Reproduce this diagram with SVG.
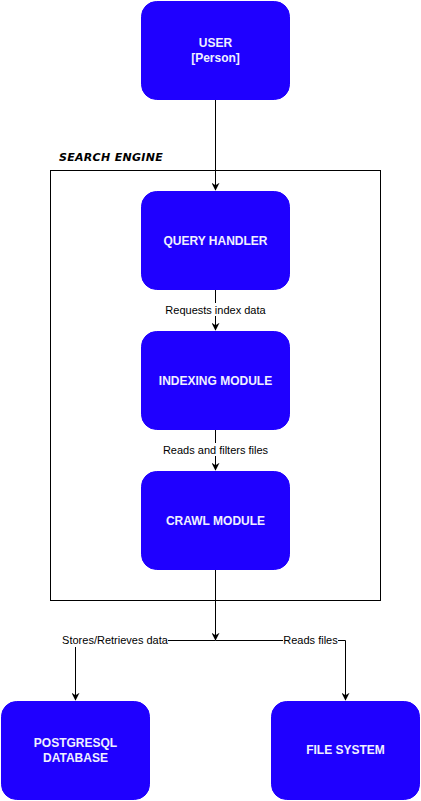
<svg xmlns="http://www.w3.org/2000/svg" width="421" height="801" viewBox="0 0 421 801">
<style>
.node{fill:#1F00FF;stroke:#1F00FF;stroke-width:1}
.nt{fill:#F0F0FF;font-family:"Liberation Sans",Arial,sans-serif;font-size:12px;font-weight:bold;text-anchor:middle}
.edge{fill:none;stroke:#000;stroke-width:1}
.lbl{fill:#000;font-family:"Liberation Sans",Arial,sans-serif;font-size:11px;text-anchor:middle}
.lblbg{fill:#fff}
</style>
<defs>
<marker id="arr" viewBox="0 0 10 10" refX="9" refY="5" markerWidth="8" markerHeight="8" markerUnits="userSpaceOnUse" orient="auto">
<path d="M0,0 L10,5 L0,10 L3,5 Z" fill="#000"/>
</marker>
</defs>
<rect width="421" height="801" fill="#fff"/>
<g id="search-engine">
<rect x="50.5" y="170.5" width="330" height="430" fill="none" stroke="#000" stroke-width="1"/>
<text x="59" y="161" font-family="'DejaVu Sans',sans-serif" font-size="11" font-style="italic" font-weight="bold" letter-spacing="0.3" fill="#000">SEARCH ENGINE</text>
</g>
<g id="connectors">
<path class="edge" d="M215.5,100 L215.5,190" marker-end="url(#arr)"/>
<path class="edge" d="M215.5,290 L215.5,330" marker-end="url(#arr)"/>
<path class="edge" d="M215.5,430 L215.5,470" marker-end="url(#arr)"/>
<path class="edge" d="M215.5,570 L215.5,640" marker-end="url(#arr)"/>
<path class="edge" d="M215.5,640.5 L75.5,640.5 L75.5,700" marker-end="url(#arr)"/>
<path class="edge" d="M215.5,640.5 L345.5,640.5 L345.5,700" marker-end="url(#arr)"/>
<rect class="lblbg" x="163" y="303" width="105" height="13"/>
<text class="lbl" x="215.5" y="314">Requests index data</text>
<rect class="lblbg" x="161" y="443" width="109" height="13"/>
<text class="lbl" x="215.5" y="454">Reads and filters files</text>
<rect class="lblbg" x="62" y="634" width="106" height="13"/>
<text class="lbl" x="115" y="644">Stores/Retrieves data</text>
<rect class="lblbg" x="283" y="634" width="55" height="13"/>
<text class="lbl" x="310.5" y="644">Reads files</text>
</g>
<g id="user">
<rect class="node" x="141.5" y="1.5" width="148" height="98" rx="15"/>
<text class="nt" x="215.5" y="47">USER</text>
<text class="nt" x="215.5" y="62">[Person]</text>
</g>
<g id="query-handler">
<rect class="node" x="141.5" y="191.5" width="148" height="98" rx="15"/>
<text class="nt" x="215.5" y="245">QUERY HANDLER</text>
</g>
<g id="indexing-module">
<rect class="node" x="141.5" y="331.5" width="148" height="98" rx="15"/>
<text class="nt" x="215.5" y="385">INDEXING MODULE</text>
</g>
<g id="crawl-module">
<rect class="node" x="141.5" y="471.5" width="148" height="98" rx="15"/>
<text class="nt" x="215.5" y="525">CRAWL MODULE</text>
</g>
<g id="postgresql-database">
<rect class="node" x="1.5" y="701.5" width="148" height="98" rx="15"/>
<text class="nt" x="75.5" y="747">POSTGRESQL</text>
<text class="nt" x="75.5" y="762">DATABASE</text>
</g>
<g id="file-system">
<rect class="node" x="271.5" y="701.5" width="148" height="98" rx="15"/>
<text class="nt" x="345.5" y="754">FILE SYSTEM</text>
</g>
</svg>
